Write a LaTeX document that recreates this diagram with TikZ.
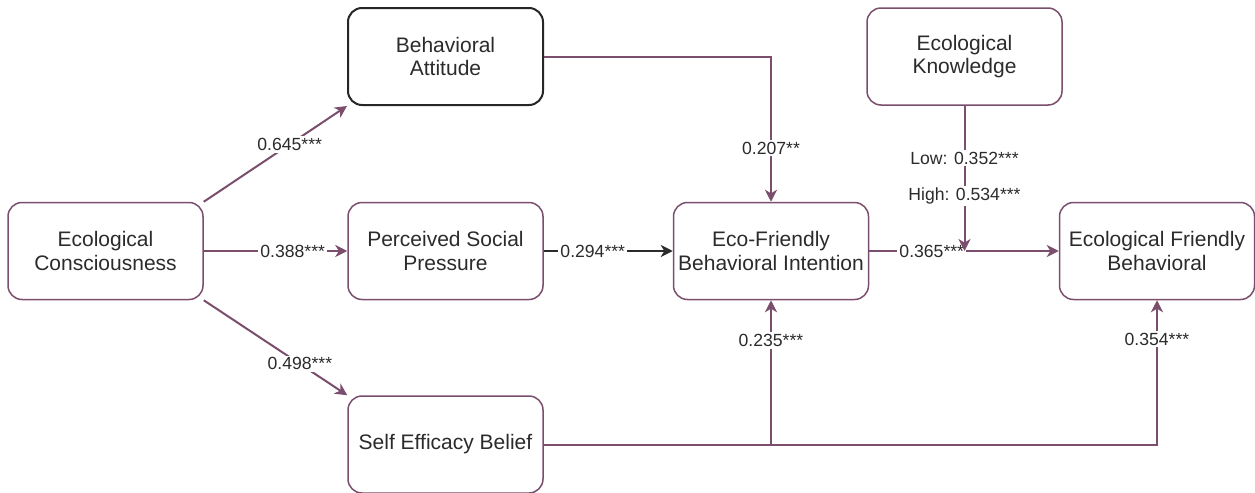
\documentclass[tikz,border=0pt]{standalone}
\usepackage{fontspec}
\setmainfont{Liberation Sans}
\usepackage{tikz}
\usetikzlibrary{arrows.meta,positioning}
\definecolor{plum}{HTML}{7A4E6C}
\definecolor{ink}{HTML}{2B2B2B}

\begin{document}
\begin{tikzpicture}[
        x=0.5pt, y=-0.5pt,
        every node/.style={font=\fontsize{10.5}{11.8}\selectfont, text=ink},
        construct/.style={rectangle, draw=plum, line width=0.75pt, fill=white, minimum width=97.5pt, minimum height=48.5pt, rounded corners=7pt, align=center, inner sep=2pt},
        link/.style={-{Stealth[length=6pt, width=6pt, inset=1.8pt]}, line width=1pt, draw=plum},
        coef/.style={font=\fontsize{8.8}{10}\selectfont, fill=white, inner sep=1pt},
    ]
        \useasboundingbox (0,0) rectangle (1255,493);

        \node[construct] (consc) at (105.5,251) {Ecological\\Consciousness};
        \node[construct, draw=black!85, line width=1pt] (attitude) at (445.5,56.5) {Behavioral\\Attitude};
        \node[construct] (pressure) at (445.5,251) {Perceived Social\\Pressure};
        \node[construct] (efficacy) at (445.5,444.5) {Self Efficacy Belief};
        \node[construct] (intention) at (771,251) {Eco-Friendly\\Behavioral Intention};
        \node[construct] (knowledge) at (964.5,56.5) {Ecological\\Knowledge};
        \node[construct] (behavior) at (1157,251) {Ecological Friendly\\Behavioral};

        % paths from ecological consciousness
        \draw[link] (consc.north east) -- (attitude.south west) node[coef, pos=0.6] {0.645***};
        \draw[link] (consc.east) -- (pressure.west) node[coef, pos=0.62] {0.388***};
        \draw[link] (consc.south east) -- (efficacy.north west) node[coef, pos=0.67] {0.498***};

        % into intention
        \draw[link] (attitude.east) -| (intention.north) node[coef, pos=0.815] {0.207**};
        \draw[link, draw=ink] (pressure.east) -- (intention.west) node[coef, pos=0.38] {0.294***};
        \coordinate (split) at (intention.south |- efficacy.east);
        \draw[link] (efficacy.east) -| (behavior.south) node[coef, pos=0.865] {0.354***};
        \draw[link] (split) -- (intention.south) node[coef, pos=0.72] {0.235***};

        % intention to behaviour, moderated by knowledge
        \draw[link] (intention.east) -- (behavior.west) node[coef, pos=0.33] {0.365***};
        \coordinate (moderate) at (knowledge.south |- behavior.west);
        \draw[link] (knowledge.south) -- (moderate)
            node[coef, pos=0.36] {Low: 0.352***}
            node[coef, pos=0.62] {High: 0.534***};

    \end{tikzpicture}
\end{document}
